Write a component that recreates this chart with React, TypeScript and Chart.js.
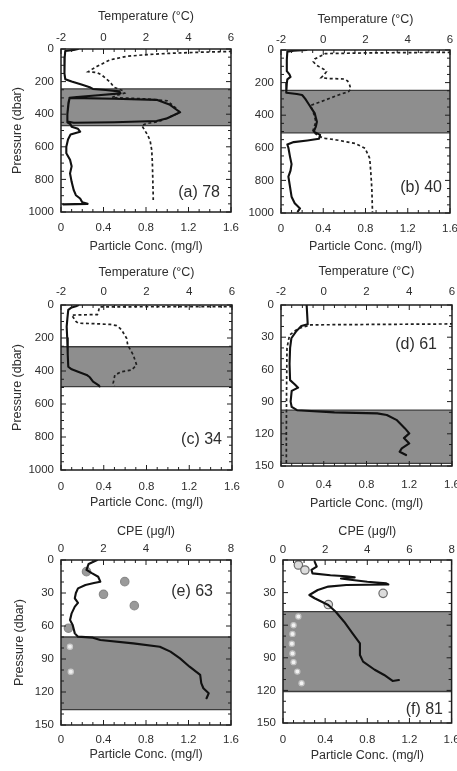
import React, { useEffect, useRef } from 'react';
import { Chart, registerables } from 'chart.js';

Chart.register(...registerables);

// ---------------- tick labels ----------------
const concTicks = [0, 0.4, 0.8, 1.2, 1.6];
const tempTicks = [-2, 0, 2, 4, 6];
const cpeTicks = [0, 2, 4, 6, 8];
const deepTicks = [0, 200, 400, 600, 800, 1000];
const shallowTicks = [0, 30, 60, 90, 120, 150];

// ---------------- panel (a) 78 ----------------
const aBand = [245, 470];
const aConcP = [0, 6, 12, 50, 100, 150, 185, 200, 220, 235, 245, 252, 260, 272, 284, 294, 300, 305, 312, 340, 388, 425, 442, 449, 452, 445, 400, 340, 302, 330, 400, 450, 462, 477, 490, 507, 525, 555, 600, 640, 680, 720, 763, 815, 866, 897, 917, 940, 950, 953];
const aConcV = [0.16, 0.12, 0.04, 0.035, 0.03, 0.035, 0.04, 0.10, 0.20, 0.27, 0.30, 0.42, 0.55, 0.56, 0.35, 0.15, 0.08, 0.5, 0.9, 1.02, 1.12, 1.0, 0.9, 0.5, 0.12, 0.06, 0.06, 0.07, 0.08, 0.07, 0.06, 0.06, 0.09, 0.10, 0.16, 0.18, 0.09, 0.066, 0.05, 0.05, 0.085, 0.10, 0.085, 0.10, 0.12, 0.14, 0.18, 0.20, 0.25, 0.02];
const aTempP = [0, 12, 15, 20, 27, 36, 45, 67, 90, 108, 125, 139, 145, 160, 194, 210, 235, 255, 270, 285, 298, 306, 318, 350, 388, 425, 445, 458, 470, 490, 518, 559, 620, 700, 800, 906, 927];
const aTempV = [7, 7, 6, 4.5, 3.0, 1.9, 1.09, 0.3, -0.05, -0.32, -0.55, -0.72, -0.3, -0.08, 0.23, 0.35, 0.5, 0.9, 1.0, 0.6, 0.4, 2.0, 3.0, 3.3, 3.6, 3.0, 2.6, 2.0, 1.8, 1.9, 2.03, 2.19, 2.27, 2.3, 2.32, 2.34, 2.34];

// ---------------- panel (b) 40 ----------------
const bBand = [248, 508];
const bConcP = [0, 5, 10, 60, 130, 150, 165, 180, 205, 235, 262, 270, 276, 300, 330, 360, 389, 415, 440, 470, 501, 521, 545, 555, 565, 580, 600, 654, 700, 740, 777, 838, 900, 940, 972, 990];
const bConcV = [0.24, 0.12, 0.06, 0.055, 0.055, 0.08, 0.09, 0.06, 0.055, 0.05, 0.05, 0.15, 0.2, 0.23, 0.26, 0.29, 0.32, 0.33, 0.34, 0.33, 0.31, 0.37, 0.36, 0.25, 0.12, 0.06, 0.07, 0.085, 0.1, 0.09, 0.07, 0.085, 0.1, 0.13, 0.18, 0.16];
const bTempP = [0, 12, 14, 18, 22, 35, 55, 72, 90, 102, 120, 133, 150, 170, 175, 178, 190, 215, 240, 255, 276, 307, 340, 390, 440, 500, 530, 542, 552, 573, 603, 665, 750, 850, 995];
const bTempV = [7, 7, 6, 2, 0.1, -0.1, -0.4, -0.47, -0.35, -0.2, 0.05, 0.15, 0.05, -0.1, 0.3, 1.0, 1.15, 1.25, 1.3, 1.2, 0.72, 0.1, -0.6, -0.45, -0.35, -0.5, -0.2, 0.09, 0.64, 1.5, 1.98, 2.2, 2.25, 2.3, 2.33];

// ---------------- panel (c) 34 ----------------
const cBand = [253, 495];
const cConcP = [2, 8, 15, 30, 80, 131, 200, 300, 374, 390, 405, 424, 438, 465, 485, 493];
const cConcV = [0.16, 0.14, 0.1, 0.068, 0.06, 0.053, 0.058, 0.063, 0.068, 0.1, 0.16, 0.24, 0.27, 0.3, 0.35, 0.36];
const cTempP = [0, 8, 10, 11, 40, 58, 61, 80, 100, 110, 114, 118, 125, 140, 152, 202, 242, 303, 364, 394, 404, 424, 475, 492];
const cTempV = [7, 7, 6, -0.2, -0.25, -0.3, -1.5, -1.4, -1.3, -1.2, -0.3, 0.3, 0.6, 0.75, 0.84, 1.07, 1.12, 1.38, 1.54, 1.3, 0.84, 0.52, 0.44, 0.5];

// ---------------- panel (d) 61 ----------------
const dBand = [98, 147.5];
const dConcP = [0, 18, 19.6, 24.8, 31, 40, 55, 70, 74, 77, 80, 90, 95, 98, 100, 101, 102.5, 107, 115, 119.6, 124, 129, 133.6, 136.7, 139.8];
const dConcV = [0.24, 0.25, 0.19, 0.14, 0.097, 0.085, 0.08, 0.085, 0.13, 0.16, 0.1, 0.09, 0.1, 0.15, 0.5, 0.9, 0.99, 1.08, 1.16, 1.2, 1.15, 1.2, 1.13, 1.11, 1.17];
const dTempP = [0, 17.5, 18.5, 22, 28, 40, 80, 120, 148];
const dTempV = [7, 7, -0.6, -1.2, -1.6, -1.72, -1.74, -1.75, -1.75];

// ---------------- panel (e) 63 ----------------
const eBand = [70, 136];
const eConcP = [0, 3.6, 9, 12, 15.2, 19.7, 21, 22.7, 25.8, 30, 34.8, 39, 42.4, 48.5, 54.5, 59, 66.7, 69.7, 70.6, 72.7, 75.8, 78.8, 83.3, 89.4, 97, 104.5, 112, 116.6, 121.2, 125.7];
const eConcV = [0.34, 0.26, 0.24, 0.29, 0.35, 0.37, 0.31, 0.23, 0.16, 0.14, 0.13, 0.16, 0.13, 0.1, 0.085, 0.11, 0.13, 0.16, 0.3, 0.37, 0.68, 0.93, 1.03, 1.12, 1.21, 1.31, 1.32, 1.34, 1.39, 1.37];
const eCpeP = [10.6, 19.7, 31.2, 41.5, 62, 78.8, 101.5];
const eCpeV = [1.2, 3.0, 2.0, 3.45, 0.35, 0.42, 0.46];

// ---------------- panel (f) 81 ----------------
const fBand = [47.5, 121];
const fConcP = [1.5, 6, 9, 12.3, 14, 15, 16, 17, 18, 20, 21.5, 22.5, 23, 24.5, 27.6, 32.2, 35.2, 41.4, 47.6, 56.8, 67.5, 76.7, 87.4, 93.5, 101, 105.8, 111.3, 110.5];
const fConcV = [0.30, 0.32, 0.27, 0.28, 0.45, 0.6, 0.68, 0.55, 0.62, 0.8, 0.98, 1.0, 0.6, 0.43, 0.33, 0.25, 0.30, 0.43, 0.50, 0.58, 0.66, 0.73, 0.73, 0.76, 0.87, 0.96, 1.04, 1.1];
const fCpeP = [4.6, 9.2, 30.7, 41, 52, 60, 68, 77, 86, 94, 102.7, 113.4];
const fCpeV = [0.73, 1.04, 4.75, 2.15, 0.73, 0.5, 0.45, 0.42, 0.45, 0.5, 0.68, 0.88];

// ---------------- styles ----------------
const FONT = "'Liberation Sans', Arial, Helvetica, sans-serif";
const TICK_SIZE = 11.5;
const TITLE_SIZE = 12.5;
const INK = '#2e2e2e';
const FRAME = '#1e1e1e';
const BAND_FILL = '#8e8e8e';

type Profile = { p: number[]; v: number[] };
type Panel = {
  key: string;
  box: number[];
  area: number[];
  topTitleY: number;
  topTickY: number;
  botTickY: number;
  botTitleY: number;
  yTitleX: number | null;
  yMax: number;
  yTicks: number[];
  yMinor: number;
  topTicks: number[];
  topMinor: number;
  topTitle: string;
  band: number[];
  conc: Profile;
  temp?: Profile;
  cpe?: Profile;
  cpeFill?: string[];
  label: string;
  labelRight: number;
  labelY: number;
};

const TEMP_TITLE = 'Temperature (\u00B0C)';
const CPE_TITLE = 'CPE (\u03BCg/l)';

const PANELS: Panel[] = [
  {
    key: 'a', box: [0, 0, 240, 257], area: [61, 49, 231, 212],
    topTitleY: 17, topTickY: 38, botTickY: 228, botTitleY: 247, yTitleX: 18,
    yMax: 1000, yTicks: deepTicks, yMinor: 50,
    topTicks: tempTicks, topMinor: 0.5, topTitle: TEMP_TITLE,
    band: aBand, conc: { p: aConcP, v: aConcV }, temp: { p: aTempP, v: aTempV },
    label: '(a) 78', labelRight: 220, labelY: 193,
  },
  {
    key: 'b', box: [240, 0, 217, 257], area: [281, 50, 450, 213],
    topTitleY: 20, topTickY: 40, botTickY: 229, botTitleY: 247, yTitleX: null,
    yMax: 1000, yTicks: deepTicks, yMinor: 50,
    topTicks: tempTicks, topMinor: 0.5, topTitle: TEMP_TITLE,
    band: bBand, conc: { p: bConcP, v: bConcV }, temp: { p: bTempP, v: bTempV },
    label: '(b) 40', labelRight: 442, labelY: 188,
  },
  {
    key: 'c', box: [0, 257, 240, 257], area: [61, 305, 232, 470],
    topTitleY: 273, topTickY: 292, botTickY: 487, botTitleY: 503, yTitleX: 18,
    yMax: 1000, yTicks: deepTicks, yMinor: 50,
    topTicks: tempTicks, topMinor: 0.5, topTitle: TEMP_TITLE,
    band: cBand, conc: { p: cConcP, v: cConcV }, temp: { p: cTempP, v: cTempV },
    label: '(c) 34', labelRight: 222, labelY: 440,
  },
  {
    key: 'd', box: [240, 257, 217, 257], area: [281, 305, 452, 466],
    topTitleY: 272, topTickY: 292, botTickY: 485, botTitleY: 504, yTitleX: null,
    yMax: 150, yTicks: shallowTicks, yMinor: 10,
    topTicks: tempTicks, topMinor: 0.5, topTitle: TEMP_TITLE,
    band: dBand, conc: { p: dConcP, v: dConcV }, temp: { p: dTempP, v: dTempV },
    label: '(d) 61', labelRight: 437, labelY: 345,
  },
  {
    key: 'e', box: [0, 514, 240, 257], area: [61, 560, 231, 725],
    topTitleY: 532, topTickY: 549, botTickY: 740, botTitleY: 755, yTitleX: 20,
    yMax: 150, yTicks: shallowTicks, yMinor: 10,
    topTicks: cpeTicks, topMinor: 0.5, topTitle: CPE_TITLE,
    band: eBand, conc: { p: eConcP, v: eConcV }, cpe: { p: eCpeP, v: eCpeV },
    cpeFill: ['#9a9a9a', '#8a8a8a', '#eeeeee', '#c8c8c8'],
    label: '(e) 63', labelRight: 213, labelY: 592,
  },
  {
    key: 'f', box: [240, 514, 217, 257], area: [283, 560, 452, 723],
    topTitleY: 532, topTickY: 550, botTickY: 740, botTitleY: 756, yTitleX: null,
    yMax: 150, yTicks: shallowTicks, yMinor: 10,
    topTicks: cpeTicks, topMinor: 0.5, topTitle: CPE_TITLE,
    band: fBand, conc: { p: fConcP, v: fConcV }, cpe: { p: fCpeP, v: fCpeV },
    cpeFill: ['#dcdcdc', '#6a6a6a', '#f2f2f2', '#c0c0c0'],
    label: '(f) 81', labelRight: 443, labelY: 710,
  },
];

function drawMarks(ctx: CanvasRenderingContext2D, scale: any, minor: number, major: number, edge: string, a: any) {
  const n = Math.round((scale.max - scale.min) / minor);
  for (let i = 0; i <= n; i++) {
    const v = scale.min + i * minor;
    const r = v / major;
    const isMajor = Math.abs(r - Math.round(r)) < 1e-6;
    const len = isMajor ? 5 : 3;
    const px = scale.getPixelForValue(v);
    ctx.beginPath();
    if (edge === 'bottom') { ctx.moveTo(px, a.bottom); ctx.lineTo(px, a.bottom - len); }
    if (edge === 'top') { ctx.moveTo(px, a.top); ctx.lineTo(px, a.top + len); }
    if (edge === 'left') { ctx.moveTo(a.left, px); ctx.lineTo(a.left + len, px); }
    if (edge === 'right') { ctx.moveTo(a.right, px); ctx.lineTo(a.right - len, px); }
    ctx.stroke();
  }
}

const decoPlugin = {
  id: 'deco',
  beforeDatasetsDraw(chart: any, _args: any, o: any) {
    const { ctx, chartArea: a } = chart;
    const ys = chart.scales.y;
    const y0 = ys.getPixelForValue(o.band[0]);
    const y1 = ys.getPixelForValue(o.band[1]);
    ctx.save();
    ctx.fillStyle = BAND_FILL;
    ctx.fillRect(a.left, y0, a.right - a.left, y1 - y0);
    ctx.strokeStyle = '#3c3c3c';
    ctx.lineWidth = 1.3;
    ctx.beginPath();
    ctx.moveTo(a.left, y0); ctx.lineTo(a.right, y0);
    ctx.moveTo(a.left, y1); ctx.lineTo(a.right, y1);
    ctx.stroke();
    ctx.restore();
  },
  afterDraw(chart: any, _args: any, o: any) {
    const { ctx, chartArea: a, scales } = chart;
    ctx.save();
    ctx.strokeStyle = FRAME;
    ctx.lineWidth = 1.5;
    ctx.strokeRect(a.left, a.top, a.right - a.left, a.bottom - a.top);
    ctx.lineWidth = 1;
    drawMarks(ctx, scales.x, 0.1, concTicks[1] - concTicks[0], 'bottom', a);
    drawMarks(ctx, scales.x2, o.topMinor, o.topMajor, 'top', a);
    drawMarks(ctx, scales.y, o.yMinor, o.yMajor, 'left', a);
    drawMarks(ctx, scales.y, o.yMinor, o.yMajor, 'right', a);
    ctx.font = `16px ${FONT}`;
    ctx.fillStyle = INK;
    ctx.textAlign = 'right';
    ctx.textBaseline = 'middle';
    ctx.fillText(o.label, o.labelX, o.labelY);
    ctx.restore();
  },
};

function buildConfig(c: Panel): any {
  const [bx, by, bw, bh] = c.box;
  const [L, T, R, B] = c.area;
  const tickLh = TICK_SIZE * 1.2;
  const titleLh = TITLE_SIZE * 1.2;
  const yW = L - bx;
  const topH = T - by;
  const botH = by + bh - B;
  const padR = bx + bw - R;
  const tickFont = { family: FONT, size: TICK_SIZE };
  const titleFont = { family: FONT, size: TITLE_SIZE };
  const inBand = (p: number) => p >= c.band[0] && p <= c.band[1];
  const noGrid = { display: false, drawTicks: false, tickLength: 0 };

  const datasets: any[] = [];
  datasets.push({
    label: 'conc',
    data: c.conc.p.map((p, i) => ({ x: c.conc.v[i], y: p })),
    xAxisID: 'x', yAxisID: 'y', showLine: true,
    borderColor: '#111111', borderWidth: 2.1, pointRadius: 0,
    borderJoinStyle: 'round', borderCapStyle: 'round', tension: 0,
  });
  if (c.temp) {
    datasets.push({
      label: 'temp',
      data: c.temp.p.map((p, i) => ({ x: c.temp!.v[i], y: p })),
      xAxisID: 'x2', yAxisID: 'y', showLine: true,
      borderColor: '#1f1f1f', borderWidth: 1.7, borderDash: [3, 2.6], pointRadius: 0, tension: 0,
    });
  }
  if (c.cpe) {
    const fill = c.cpeFill!;
    datasets.push({
      label: 'cpe',
      data: c.cpe.p.map((p, i) => ({ x: c.cpe!.v[i], y: p })),
      xAxisID: 'x2', yAxisID: 'y', showLine: false,
      pointRadius: (ctx: any) => (ctx.raw && inBand(ctx.raw.y) ? 2.6 : 4.2),
      pointBackgroundColor: (ctx: any) => (ctx.raw && inBand(ctx.raw.y) ? fill[2] : fill[0]),
      pointBorderColor: (ctx: any) => (ctx.raw && inBand(ctx.raw.y) ? fill[3] : fill[1]),
      pointBorderWidth: 1.2,
    });
  }

  const topMin = c.topTicks[0];
  const topMax = c.topTicks[c.topTicks.length - 1];

  return {
    type: 'scatter',
    data: { datasets },
    plugins: [decoPlugin],
    options: {
      responsive: false,
      animation: false,
      events: [],
      layout: { padding: { left: 0, top: 0, bottom: 0, right: padR } },
      plugins: {
        legend: { display: false },
        tooltip: { enabled: false },
        deco: {
          band: c.band,
          topMinor: c.topMinor,
          topMajor: c.topTicks[1] - c.topTicks[0],
          yMinor: c.yMinor,
          yMajor: c.yTicks[1] - c.yTicks[0],
          label: c.label,
          labelX: c.labelRight - bx,
          labelY: c.labelY - by,
        },
      },
      scales: {
        x: {
          type: 'linear', position: 'bottom', min: concTicks[0], max: concTicks[concTicks.length - 1],
          grid: noGrid, border: { display: false },
          afterBuildTicks: (s: any) => { s.ticks = concTicks.map((v) => ({ value: v })); },
          ticks: {
            padding: c.botTickY - B - tickLh / 2, font: tickFont, color: INK,
            maxRotation: 0, autoSkip: false, callback: (v: any) => String(v),
          },
          title: {
            display: true, text: 'Particle Conc. (mg/l)', font: titleFont, color: INK,
            padding: { top: 0, bottom: by + bh - c.botTitleY - titleLh / 2 },
          },
          afterFit: (s: any) => { s.height = botH; s.paddingLeft = 0; s.paddingRight = 0; },
        },
        x2: {
          type: 'linear', position: 'top', min: topMin, max: topMax,
          grid: noGrid, border: { display: false },
          afterBuildTicks: (s: any) => { s.ticks = c.topTicks.map((v) => ({ value: v })); },
          ticks: {
            padding: T - c.topTickY - tickLh / 2, font: tickFont, color: INK,
            maxRotation: 0, autoSkip: false, callback: (v: any) => String(v),
          },
          title: {
            display: true, text: c.topTitle, font: titleFont, color: INK,
            padding: { top: c.topTitleY - by - titleLh / 2, bottom: 0 },
          },
          afterFit: (s: any) => { s.height = topH; s.paddingLeft = 0; s.paddingRight = 0; },
        },
        y: {
          type: 'linear', position: 'left', reverse: true, min: 0, max: c.yMax,
          grid: noGrid, border: { display: false },
          afterBuildTicks: (s: any) => { s.ticks = c.yTicks.map((v) => ({ value: v })); },
          ticks: { padding: 7, font: tickFont, color: INK, autoSkip: false, callback: (v: any) => String(v) },
          title: {
            display: c.yTitleX !== null, text: 'Pressure (dbar)', font: titleFont, color: INK,
            padding: { top: (c.yTitleX ?? 0) - bx - titleLh / 2, bottom: 0 },
          },
          afterFit: (s: any) => { s.width = yW; s.paddingTop = 0; s.paddingBottom = 0; },
        },
      },
    },
  };
}

function PanelChart({ cfg }: { cfg: Panel }) {
  const ref = useRef<HTMLCanvasElement>(null);
  useEffect(() => {
    const chart = new Chart(ref.current as HTMLCanvasElement, buildConfig(cfg));
    return () => chart.destroy();
  }, [cfg]);
  const [bx, by, bw, bh] = cfg.box;
  return (
    <canvas
      ref={ref}
      width={bw}
      height={bh}
      style={{ position: 'absolute', left: bx, top: by, width: bw, height: bh }}
    />
  );
}

export default function App() {
  return (
    <div style={{ position: 'absolute', left: 0, top: 0, width: 457, height: 771, background: '#ffffff', overflow: 'hidden' }}>
      {PANELS.map((p) => (
        <PanelChart key={p.key} cfg={p} />
      ))}
    </div>
  );
}
